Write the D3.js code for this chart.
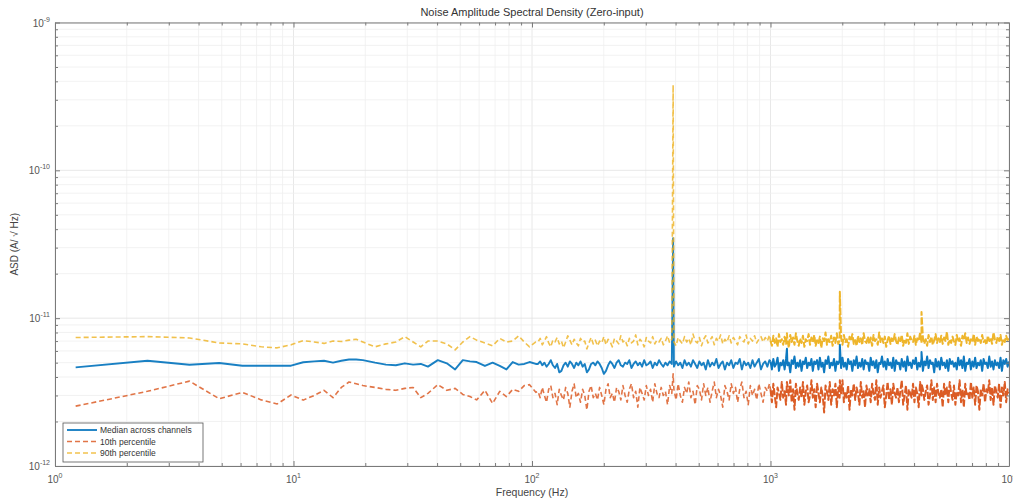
<!DOCTYPE html>
<html>
<head>
<meta charset="utf-8">
<script src="https://cdn.jsdelivr.net/npm/d3@7"></script>
<style>
  body { margin: 0; background: #fff; }
  svg text { font-family: "Liberation Sans", Arial, sans-serif; }
</style>
</head>
<body>
<script>
// all ASD values below are in units of 1e-12 A/sqrt(Hz)
var UNIT = 1e-12;

// low end: individual FFT bins (bin width ~1.22 Hz)
var binWidth = 1.2207;
var lowBins = [1,2,3,4,5,6,7,8,9,10,11,12,13,14,15,16,18,20,22,24,26,28,30,33,36,39,42,45,48,52,56,60,64,68,72,76,80,85];
var lowMedian = [4.65,5.15,4.84,4.97,4.77,4.77,4.77,4.77,5.03,5.1,5.15,5.0,5.15,5.25,5.25,5.2,5.0,4.85,4.8,4.95,4.85,4.9,4.7,5.2,4.95,4.5,5.2,5.1,5.05,4.75,5.0,4.75,4.5,5.05,4.85,4.9,5.05,4.9];
var lowP10 = [2.54,3.2,3.75,2.85,3.15,2.8,2.63,3.02,2.79,3.0,3.25,2.9,3.4,3.7,3.6,3.5,3.4,3.3,3.25,3.35,3.4,2.9,3.1,3.55,3.25,3.35,3.05,2.95,2.8,3.25,2.65,3.2,2.95,3.3,3.2,3.5,3.55,3.15];
var lowP90 = [7.4,7.5,7.35,6.8,6.7,6.4,6.3,6.6,7.05,6.9,6.75,7.0,6.95,7.1,7.2,6.9,6.4,6.7,6.9,7.5,6.9,6.4,7.0,7.0,6.7,6.1,6.9,7.5,7.1,6.8,6.5,7.3,6.9,7.0,7.6,6.9,6.4,6.9];

// 106 Hz - 990 Hz, read as a noisy trace (log spaced)
var midRange = [106, 990];
var midMedian = [4.9,5.1,4.8,5.0,4.7,4.9,5.2,4.8,4.6,4.9, 4.3,4.4,4.8,5.0,4.7,5.1,4.9,4.6,5.0,4.8,
  5.1,4.7,4.9,4.3,4.5,4.9,5.0,4.8,5.1,4.9, 4.6,4.2,4.4,4.8,5.1,4.9,4.6,5.0,5.2,4.8,
  4.7,5.0,4.9,5.2,4.6,4.9,5.1,4.8,5.0,4.7, 5.2,4.8,4.9,5.1,4.6,5.0,4.8,5.2,4.9,4.7,
  5.0,4.8,5.1,4.9,4.7,5.1,4.8,5.0,4.6,5.2, 4.8,5.0,4.7,5.2,4.9,4.6,5.1,4.8,5.0,4.5,
  5.2,4.7,5.0,4.8,5.3,4.6,4.9,5.1,4.5,5.0, 4.8,5.2,4.6,5.0,4.9,5.3,4.5,5.1,4.8,5.0,
  4.6,5.2,4.7,5.0,5.3,4.5,4.9,5.1,4.7,5.2];
var midP10 = [3.2,2.9,3.4,3.0,2.7,3.3,3.5,2.9,3.1,2.6, 3.3,3.0,2.8,3.4,3.1,2.5,3.2,3.6,2.9,3.1,
  2.7,3.3,3.0,2.4,3.2,3.5,2.9,3.1,2.8,3.4, 3.0,2.6,3.3,3.6,2.9,3.1,2.7,3.4,3.2,2.8,
  3.5,3.0,2.7,3.3,3.6,2.9,3.2,2.5,3.4,3.1, 2.8,3.5,3.0,3.3,2.7,3.6,3.1,2.9,3.4,3.0,
  3.2,2.6,3.5,3.1,3.3,2.8,3.6,3.0,2.7,3.4, 3.1,3.7,2.9,3.2,2.6,3.5,3.3,2.8,3.6,3.0,
  3.4,2.7,3.2,3.7,2.9,3.3,3.0,2.5,3.5,3.2, 2.8,3.6,3.1,3.4,2.7,3.3,3.7,2.9,3.2,2.6,
  3.5,3.0,3.3,2.8,3.6,3.1,2.7,3.4,3.2,3.6];
var midP90 = [6.9,7.3,6.6,7.0,7.5,6.8,6.4,7.1,6.9,7.4, 6.7,7.0,6.3,6.9,7.6,7.1,6.6,7.2,6.8,6.5,
  7.3,6.9,7.0,6.2,6.8,7.4,6.7,7.1,6.5,7.0, 6.8,7.5,6.6,7.2,6.9,6.4,7.3,7.0,6.7,7.6,
  6.9,7.1,6.5,7.3,6.8,7.0,7.7,6.6,7.2,6.9, 6.4,7.4,7.0,6.8,7.5,6.7,7.1,6.9,7.3,6.6,
  7.0,7.6,6.8,7.2,6.9,6.5,7.4,7.0,6.7,7.5, 6.9,7.3,6.6,7.8,7.0,6.8,7.4,6.5,7.2,7.6,
  6.8,7.1,7.5,6.6,7.3,7.0,7.7,6.7,7.2,6.9, 7.6,6.8,7.4,7.0,6.6,7.5,7.1,6.9,7.7,6.7,
  7.3,7.0,7.6,6.8,7.2,7.5,6.9,7.4,7.0,7.7];

// 1 kHz - 10 kHz, dense noise band
var highRange = [1000, 10000];
var highMedian = [5.1,4.5,5.3,4.7,4.9,5.4,4.4,5.0,4.8,5.2, 4.5,5.3,4.8,5.0,4.3,5.2,4.9,5.5,4.6,5.0,
  4.7,5.2,4.4,5.1,4.9,5.4,4.6,5.0,4.8,5.3, 4.4,5.1,4.9,5.2,4.5,5.4,4.7,5.0,4.3,5.2,
  4.9,5.5,4.6,5.0,4.8,5.3,4.4,5.1,4.9,5.2, 4.6,5.4,4.7,5.0,4.5,5.3,4.9,5.1,4.4,5.2,
  4.8,5.5,4.6,5.0,4.7,5.3,4.5,5.2,4.9,5.0, 4.4,5.4,4.8,5.1,4.6,5.2,4.3,5.0,4.9,5.5,
  4.7,5.1,4.5,5.3,4.8,5.0,4.6,5.4,4.4,5.2, 4.9,5.0,4.5,5.3,4.7,5.1,4.4,5.5,4.8,5.0,
  4.6,5.2,4.9,5.4,4.5,5.0,4.7,5.3,4.4,5.1, 4.8,5.5,4.6,5.2,4.9,5.0,4.3,5.3,4.7,5.1,
  4.5,5.4,4.8,5.0,4.6,5.2,4.4,5.3,4.9,5.1, 4.7,5.0,4.5,5.4,4.8,5.2,4.6,5.5,4.4,5.0,
  4.9,5.3,4.5,5.1,4.7,5.4,4.6,5.0,4.8,5.2, 4.4,5.3,4.9,5.0,4.6,5.5,4.7,5.1,4.5,5.2,
  4.8,5.0,4.6,5.4,4.4,5.2,4.9,5.3,4.7,5.1];
var highP10 = [3.3,2.7,3.6,3.0,2.5,3.4,3.1,2.8,3.7,2.9, 3.2,2.6,3.5,3.0,3.8,2.7,3.3,2.4,3.6,3.1,
  2.8,3.4,2.9,3.7,2.6,3.2,3.5,2.7,3.0,3.8, 2.9,3.3,2.5,3.6,3.1,2.7,3.4,3.0,2.3,3.5,
  3.2,2.8,3.7,2.6,3.3,3.0,3.6,2.5,3.4,2.9, 3.1,3.8,2.7,3.2,2.9,3.5,2.4,3.3,3.0,3.6,
  2.8,3.4,3.1,2.6,3.7,2.9,3.2,2.5,3.5,3.0, 3.3,2.7,3.6,3.1,2.8,3.8,2.6,3.4,2.9,3.2,
  3.5,2.5,3.0,3.7,2.8,3.3,2.6,3.6,3.1,2.9, 3.4,2.7,3.2,3.8,2.6,3.0,3.5,2.4,3.3,3.1,
  2.9,3.6,2.7,3.4,3.1,2.5,3.7,3.0,3.3,2.8, 3.2,3.5,2.6,3.0,3.8,2.8,3.4,2.7,3.6,3.1,
  2.9,3.3,2.5,3.6,3.0,3.4,2.7,3.7,3.1,2.8, 3.5,2.6,3.2,3.0,3.8,2.7,3.3,2.5,3.6,3.0,
  3.1,2.8,3.7,2.9,3.4,2.6,3.5,3.2,2.4,3.3, 3.0,3.6,2.7,3.3,3.1,3.8,2.8,3.4,2.6,3.5,
  3.2,2.9,3.6,2.5,3.4,3.0,3.7,2.7,3.3,3.1];
var highP90 = [7.0,6.5,7.6,6.8,7.3,6.4,7.8,6.9,7.2,6.6, 7.5,6.7,7.1,6.3,7.7,6.9,7.4,6.6,7.9,7.0,
  6.5,7.3,6.8,7.6,6.4,7.2,7.0,7.8,6.6,7.4, 6.9,7.7,6.5,7.1,6.8,7.5,6.3,7.3,7.0,8.0,
  6.6,7.2,6.9,7.6,6.5,7.4,6.8,7.9,6.7,7.1, 7.4,6.6,7.7,6.9,7.2,6.4,7.5,7.0,7.8,6.7,
  7.1,6.5,7.6,6.9,7.3,6.6,7.9,7.0,6.8,7.5, 6.7,7.4,6.5,7.7,7.0,7.2,6.6,8.0,6.9,7.3,
  6.8,7.5,6.4,7.1,7.6,6.7,7.3,6.9,7.8,7.0, 6.6,7.4,7.0,7.7,6.5,7.2,6.8,7.9,6.7,7.5,
  7.1,6.9,7.6,6.6,7.3,7.0,8.0,6.8,7.4,6.7, 7.2,6.5,7.7,6.9,7.5,6.6,7.1,7.8,6.8,7.3,
  6.9,7.6,6.7,7.4,7.0,8.1,6.6,7.2,6.8,7.5, 7.0,6.6,7.7,6.9,7.3,6.5,7.6,7.1,7.9,6.8,
  7.4,6.7,7.2,6.9,7.8,6.6,7.5,7.0,7.3,6.8, 7.7,6.9,7.1,6.6,7.6,7.0,7.4,6.7,8.0,7.2,
  6.8,7.5,7.0,7.7,6.6,7.3,6.9,7.6,7.1,7.4];

// narrow lines (interference at 390 Hz and harmonics)
var spikeFreq = [390.6, 1171.9, 1953.1, 4296.9];
var spikeMedian = [34.8, 6.2, 6.6, 5.9];
var spikeP10 = [4.2, 3.7, 3.8, 3.6];
var spikeP90 = [378, 7.9, 15.1, 11.0];

var seriesNames = ["Median across channels", "10th percentile", "90th percentile"];
var seriesColors = ["#0072BD", "#D95319", "#EDB120"];

// sample positions of an evenly log-spaced trace
function logGrid(range, n) {
  var s = d3.scaleLinear().domain([0, n - 1]).range([Math.log10(range[0]), Math.log10(range[1])]);
  return d3.range(n).map(function(i) { return Math.pow(10, s(i)); });
}

function buildSeries(low, mid, high, spikes) {
  var pts = [];
  lowBins.forEach(function(k, i) { pts.push({f: k * binWidth, v: low[i]}); });
  logGrid(midRange, mid.length).forEach(function(f, i) { pts.push({f: f, v: mid[i]}); });
  logGrid(highRange, high.length).forEach(function(f, i) { pts.push({f: f, v: high[i]}); });
  spikeFreq.forEach(function(f, i) { pts.push({f: f, v: spikes[i]}); });
  pts.sort(function(a, b) { return a.f - b.f; });
  return pts;
}

var series = [
  buildSeries(lowMedian, midMedian, highMedian, spikeMedian),
  buildSeries(lowP10, midP10, highP10, spikeP10),
  buildSeries(lowP90, midP90, highP90, spikeP90)
];

var width = 1013, height = 500;
var mLeft = 55, mRight = 1009, mTop = 22.5, mBottom = 466;

var svg = d3.select("body").append("svg")
  .attr("width", width)
  .attr("height", height);

var x = d3.scaleLog().domain([1, 1e4]).range([mLeft, mRight]);
var y = d3.scaleLog().domain([1e-12, 1e-9]).range([mBottom, mTop]);

function isDecade(v) {
  var e = Math.log10(v);
  return Math.abs(e - Math.round(e)) < 1e-6;
}

// grid
var xt = x.ticks();
var yt = y.ticks();
var grid = svg.append("g");
grid.selectAll(".gx").data(xt).enter().append("line")
  .attr("x1", function(d) { return x(d); }).attr("x2", function(d) { return x(d); })
  .attr("y1", mTop).attr("y2", mBottom)
  .attr("stroke", function(d) { return isDecade(d) ? "#e2e2e2" : "#efefef"; })
  .attr("stroke-width", 0.8);
grid.selectAll(".gy").data(yt).enter().append("line")
  .attr("y1", function(d) { return y(d); }).attr("y2", function(d) { return y(d); })
  .attr("x1", mLeft).attr("x2", mRight)
  .attr("stroke", function(d) { return isDecade(d) ? "#e2e2e2" : "#efefef"; })
  .attr("stroke-width", 0.8);

// data lines: the part above 1 kHz is drawn a bit heavier, as the real trace
// there is thousands of bins packed into each pixel column
var line = d3.line()
  .x(function(d) { return x(d.f); })
  .y(function(d) { return y(d.v * UNIT); });

var splitF = 1000;
function drawSeries(pts, i) {
  var lowPart = pts.filter(function(d) { return d.f <= splitF; });
  var highPart = pts.filter(function(d) { return d.f >= lowPart[lowPart.length - 1].f; });
  var dashed = i > 0;
  svg.append("path").datum(lowPart)
    .attr("d", line).attr("fill", "none")
    .attr("stroke", seriesColors[i])
    .attr("stroke-width", dashed ? 1.6 : 1.9)
    .attr("stroke-opacity", dashed ? 0.8 : 0.9)
    .attr("stroke-linejoin", "round")
    .attr("stroke-dasharray", dashed ? "5,3" : null);
  svg.append("path").datum(highPart)
    .attr("d", line).attr("fill", "none")
    .attr("stroke", seriesColors[i])
    .attr("stroke-width", dashed ? 2 : 2)
    .attr("stroke-opacity", 0.95)
    .attr("stroke-linejoin", "round")
    .attr("stroke-dasharray", dashed ? "7,2" : null);
}
series.forEach(drawSeries);

// axes, ticks pointing inward on all four sides
var axisColor = "#7a7a7a";
function styleAxis(g, horizontal) {
  g.select(".domain").attr("stroke", axisColor);
  g.selectAll(".tick line").attr("stroke", axisColor)
    .each(function(d) {
      var len = isDecade(d) ? 5 : 3;
      var sel = d3.select(this);
      var cur = horizontal ? +sel.attr("y2") : +sel.attr("x2");
      var val = cur < 0 ? -len : len;
      if (horizontal) sel.attr("y2", val); else sel.attr("x2", val);
    });
  g.selectAll(".tick text").remove();
}
svg.append("g").attr("transform", "translate(0," + mBottom + ")")
  .call(d3.axisBottom(x).tickValues(xt).tickSize(-5).tickSizeOuter(0))
  .call(styleAxis, true);
svg.append("g").attr("transform", "translate(0," + mTop + ")")
  .call(d3.axisTop(x).tickValues(xt).tickSize(-5).tickSizeOuter(0))
  .call(styleAxis, true);
svg.append("g").attr("transform", "translate(" + mLeft + ",0)")
  .call(d3.axisLeft(y).tickValues(yt).tickSize(-5).tickSizeOuter(0))
  .call(styleAxis, false);
svg.append("g").attr("transform", "translate(" + mRight + ",0)")
  .call(d3.axisRight(y).tickValues(yt).tickSize(-5).tickSizeOuter(0))
  .call(styleAxis, false);

// tick labels as 10^n
var labelColor = "#555";
var xDec = xt.filter(isDecade);
var xl = svg.selectAll(".xl").data(xDec).enter().append("text")
  .attr("x", function(d) { return x(d); })
  .attr("y", 483)
  .attr("text-anchor", "middle")
  .attr("font-size", 10).attr("fill", labelColor);
xl.append("tspan").text("10");
xl.append("tspan").attr("dy", -5).attr("font-size", 7)
  .text(function(d) { return Math.round(Math.log10(d)); });

var yDec = yt.filter(isDecade);
var yl = svg.selectAll(".yl").data(yDec).enter().append("text")
  .attr("x", 50)
  .attr("y", function(d) { return y(d) + 4; })
  .attr("text-anchor", "end")
  .attr("font-size", 10).attr("fill", labelColor);
yl.append("tspan").text("10");
yl.append("tspan").attr("dy", -5).attr("font-size", 7)
  .text(function(d) { return "-" + Math.abs(Math.round(Math.log10(d))); });

// title and axis labels
svg.append("text").attr("x", (mLeft + mRight) / 2).attr("y", 16)
  .attr("text-anchor", "middle").attr("font-size", 11).attr("fill", "#333")
  .text("Noise Amplitude Spectral Density (Zero-input)");
svg.append("text").attr("x", (mLeft + mRight) / 2).attr("y", 496)
  .attr("text-anchor", "middle").attr("font-size", 10.5).attr("fill", "#444")
  .text("Frequency (Hz)");
svg.append("text")
  .attr("transform", "translate(18," + ((mTop + mBottom) / 2) + ") rotate(-90)")
  .attr("text-anchor", "middle").attr("font-size", 10).attr("fill", "#444")
  .text("ASD (A/ \u221A Hz)");

// legend
var lg = svg.append("g").attr("transform", "translate(63,423)");
lg.append("rect").attr("width", 140).attr("height", 39)
  .attr("fill", "#fff").attr("stroke", "#555").attr("stroke-width", 0.8);
seriesNames.forEach(function(name, i) {
  var yy = 7 + i * 11.5;
  lg.append("line").attr("x1", 4).attr("x2", 34).attr("y1", yy).attr("y2", yy)
    .attr("stroke", seriesColors[i]).attr("stroke-width", i === 0 ? 1.9 : 1.6)
    .attr("stroke-opacity", i === 0 ? 0.9 : 0.8)
    .attr("stroke-dasharray", i === 0 ? null : "5,3");
  lg.append("text").attr("x", 37).attr("y", yy + 3)
    .attr("font-size", 8.5).attr("fill", "#333").text(name);
});
</script>
</body>
</html>
